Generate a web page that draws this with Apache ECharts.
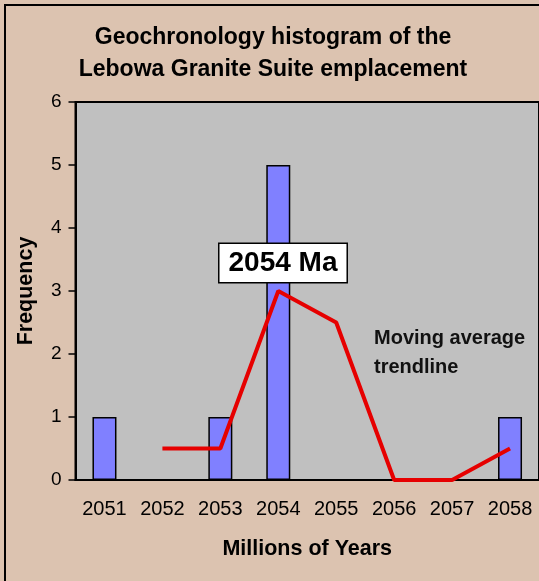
<!DOCTYPE html>
<html>
<head>
<meta charset="utf-8">
<style>
  html, body { margin: 0; padding: 0; background: #dcc3b0; }
  #chart { width: 539px; height: 581px; }
</style>
<script src="https://cdn.jsdelivr.net/npm/echarts@6/dist/echarts.min.js"></script>
</head>
<body>
<div id="chart"></div>
<script>
// categories (Ma) and counts
var years = ["2051", "2052", "2053", "2054", "2055", "2056", "2057", "2058"];
var frequency = [1, 0, 1, 5, 0, 0, 0, 1];
// 2-period moving average, first point has no value
var movingAvg = ["-", 0.5, 0.5, 3, 2.5, 0, 0, 0.5];
var yTicks = [0, 6, 1]; // min, max, interval

var font = "'Liberation Sans', Arial, sans-serif";
var myChart = echarts.init(document.getElementById("chart"));

myChart.setOption({
  animation: false,
  backgroundColor: "#dcc3b0",
  title: {
    text: "Geochronology histogram of the\nLebowa Granite Suite emplacement",
    left: 273,
    top: 22,
    textAlign: "center",
    padding: 0,
    textStyle: {
      fontFamily: font,
      fontSize: 23,
      fontWeight: "bold",
      color: "#000",
      lineHeight: 32
    }
  },
  grid: {
    left: 75.5,
    right: -1,
    top: 102,
    bottom: 101,
    show: true,
    backgroundColor: "#c0c0c0",
    borderColor: "#000",
    borderWidth: 2
  },
  xAxis: {
    type: "category",
    data: years,
    boundaryGap: true,
    name: "Millions of Years",
    nameLocation: "middle",
    nameGap: 58,
    nameTextStyle: { fontFamily: font, fontSize: 21.5, fontWeight: "bold", color: "#000" },
    axisLine: { lineStyle: { color: "#000", width: 2 } },
    axisTick: { length: 7, lineStyle: { color: "#000", width: 1.5 } },
    axisLabel: { fontFamily: font, fontSize: 20, color: "#000", margin: 19 },
    splitLine: { show: false }
  },
  yAxis: {
    type: "value",
    min: yTicks[0],
    max: yTicks[1],
    interval: yTicks[2],
    name: "Frequency",
    nameLocation: "middle",
    nameRotate: 90,
    nameGap: 38,
    nameTextStyle: { fontFamily: font, fontSize: 21.5, fontWeight: "bold", color: "#000" },
    axisLine: { show: true, lineStyle: { color: "#000", width: 2 } },
    axisTick: { show: true, length: 7, lineStyle: { color: "#000", width: 1.5 } },
    axisLabel: { fontFamily: font, fontSize: 19, color: "#000", margin: 14 },
    splitLine: { show: false }
  },
  series: [
    {
      type: "bar",
      data: frequency,
      barWidth: 24,
      itemStyle: { color: "#8080ff", borderColor: "#000", borderWidth: 1.5 }
    },
    {
      type: "line",
      data: movingAvg,
      showSymbol: false,
      z: 5,
      lineStyle: { color: "#e60000", width: 4 }
    }
  ],
  graphic: [
    {
      // outer chart border
      type: "rect",
      shape: { x: 5, y: 5, width: 700, height: 700 },
      style: { fill: "none", stroke: "#000", lineWidth: 2 },
      z: 10
    },
    {
      type: "text",
      x: 283,
      y: 263,
      z: 20,
      style: {
        text: "2054 Ma",
        font: "bold 28px " + font,
        fill: "#000",
        align: "center",
        verticalAlign: "middle",
        backgroundColor: "#fff",
        borderColor: "#000",
        borderWidth: 1.5,
        padding: [5, 9, 5, 9],
        lineHeight: 28
      }
    },
    {
      type: "text",
      x: 374,
      y: 323.5,
      z: 20,
      style: {
        text: "Moving average\ntrendline",
        font: "bold 20px " + font,
        fill: "#111",
        align: "left",
        verticalAlign: "top",
        lineHeight: 29
      }
    }
  ]
});
</script>
</body>
</html>
